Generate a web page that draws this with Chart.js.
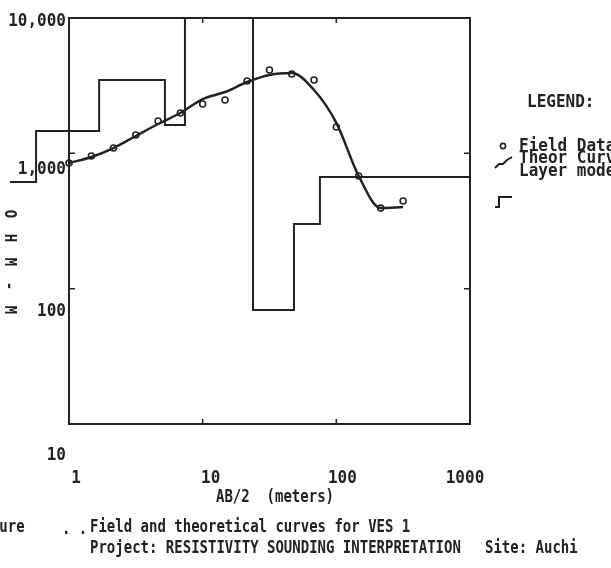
<!DOCTYPE html>
<html>
<head>
<meta charset="utf-8">
<title>VES 1 - field and theoretical curves</title>
<script src="https://cdn.jsdelivr.net/npm/chart.js@4.4.1/dist/chart.umd.min.js"></script>
<style>
  html, body { margin: 0; padding: 0; background: #fff; }
  #wrap { width: 611px; height: 568px; }
</style>
</head>
<body>
<div id="wrap"><canvas id="vesChart" width="611" height="568"></canvas></div>
<script>
// AB/2 spacings (m)
const spacings = [1, 1.47, 2.15, 3.16, 4.64, 6.81, 10, 14.7, 21.5, 31.6, 46.4, 68.1, 100, 147, 215, 316];
// apparent resistivity, ohm-m
const fieldRho = [848, 955, 1094, 1365, 1733, 1986, 2314, 2477, 3423, 4127, 3855, 3483, 1564, 680, 394, 444];
const theorRho = [848, 939, 1094, 1343, 1647, 1986, 2520, 2838, 3365, 3793, 3920, 2936, 1680, 680, 394, 401];

// layer model: top of each layer (m) and its resistivity
const layerDepth = [0.362, 0.567, 1.68, 5.22, 7.37, 23.8, 48.2, 75.4, 1000];
const layerRho = [614, 1462, 3483, 1618, 20000, 69.5, 300, 668, 668];

const xTicks = [1, 10, 100, 1000];
const xTickLabels = ['1', '10', '100', '1000'];
const yTicks = [10, 100, 1000, 10000];
const yTickLabels = ['10', '100', '1,000', '10,000'];

const INK = '#222';
const MONO = '"DejaVu Sans Mono", "Liberation Mono", monospace';

// old dot-matrix text is tall and narrow, so stretch it a bit
function printText(ctx, str, x, y, size, align, stretch, weight) {
  ctx.save();
  ctx.translate(x, y);
  ctx.scale(1, stretch || 1.15);
  ctx.font = (weight || 'bold') + ' ' + size + 'px ' + MONO;
  ctx.textAlign = align || 'left';
  ctx.textBaseline = 'middle';
  ctx.fillStyle = INK;
  ctx.fillText(str, 0, 0);
  ctx.restore();
}

const plotterDecor = {
  id: 'plotterDecor',
  beforeDatasetsDraw(chart) {
    const {ctx, chartArea: a, scales: {x, y}} = chart;
    ctx.save();
    ctx.strokeStyle = INK;
    ctx.lineWidth = 2;
    ctx.strokeRect(a.left, a.top, a.right - a.left, a.bottom - a.top);
    // inward decade ticks
    ctx.lineWidth = 1.5;
    ctx.beginPath();
    [10, 100].forEach(v => {
      const px = x.getPixelForValue(v);
      ctx.moveTo(px, a.top); ctx.lineTo(px, a.top + 5);
      ctx.moveTo(px, a.bottom); ctx.lineTo(px, a.bottom - 5);
    });
    [100, 1000].forEach(v => {
      const py = y.getPixelForValue(v);
      ctx.moveTo(a.left, py); ctx.lineTo(a.left + 6, py);
      ctx.moveTo(a.right, py); ctx.lineTo(a.right - 6, py);
    });
    ctx.stroke();
    ctx.restore();
  },
  afterDraw(chart) {
    const {ctx, scales: {x, y}} = chart;

    // tick labels drift a little on the printout
    const yNudge = [31, 23, 16, 3];
    yTicks.forEach((v, i) => {
      printText(ctx, yTickLabels[i], 66, y.getPixelForValue(v) + yNudge[i], 16, 'right');
    });
    const xNudge = [7, 8, 6, -5];
    xTicks.forEach((v, i) => {
      printText(ctx, xTickLabels[i], x.getPixelForValue(v) + xNudge[i], 478, 16, 'center');
    });

    printText(ctx, 'AB/2  (meters)', 275, 497, 14, 'center', 1.25);

    // y title, letters turned sideways
    ctx.save();
    ctx.font = 'bold 14px ' + MONO;
    ctx.fillStyle = INK;
    ctx.textAlign = 'center';
    ctx.textBaseline = 'middle';
    'OHM-M'.split('').forEach((ch, i) => {
      ctx.save();
      ctx.translate(9, 214 + i * 24);
      ctx.rotate(Math.PI / 2);
      ctx.scale(1, 1.15);
      ctx.fillText(ch, 0, 0);
      ctx.restore();
    });
    ctx.restore();

    // legend
    printText(ctx, 'LEGEND:', 527, 102, 16, 'left', 1.15);
    printText(ctx, 'Field Data', 519, 146, 16, 'left', 1.1);
    printText(ctx, 'Theor Curve', 519, 158, 16, 'left', 1.1);
    printText(ctx, 'Layer model', 519, 171, 16, 'left', 1.1);

    ctx.save();
    ctx.strokeStyle = INK;
    ctx.lineWidth = 1.6;
    ctx.beginPath();
    ctx.arc(503, 146, 2.6, 0, Math.PI * 2);
    ctx.stroke();
    ctx.lineWidth = 2;
    ctx.beginPath();
    ctx.moveTo(495, 168);
    ctx.lineTo(499, 164);
    ctx.lineTo(503, 164);
    ctx.lineTo(507, 160);
    ctx.lineTo(512, 157);
    ctx.stroke();
    ctx.beginPath();
    ctx.moveTo(495, 207);
    ctx.lineTo(499, 207);
    ctx.lineTo(499, 197);
    ctx.lineTo(512, 197);
    ctx.stroke();
    ctx.restore();

    // caption
    printText(ctx, 'Figure', -26, 527, 14, 'left', 1.25);
    printText(ctx, '. .', 62, 529, 14, 'left', 1.25);
    printText(ctx, 'Field and theoretical curves for VES 1', 90, 527, 14, 'left', 1.25);
    printText(ctx, 'Project: RESISTIVITY SOUNDING INTERPRETATION', 90, 548, 14, 'left', 1.25);
    printText(ctx, 'Site: Auchi', 485, 548, 14, 'left', 1.25);
  }
};

new Chart(document.getElementById('vesChart'), {
  type: 'line',
  data: {
    datasets: [
      {
        label: 'Layer model',
        data: layerDepth.map((d, i) => ({x: d, y: layerRho[i]})),
        stepped: 'before',
        borderColor: INK,
        borderWidth: 2,
        pointRadius: 0,
        fill: false,
        clip: {left: false, top: 0, right: 0, bottom: 0}
      },
      {
        label: 'Theor Curve',
        data: spacings.map((s, i) => ({x: s, y: theorRho[i]})),
        cubicInterpolationMode: 'monotone',
        borderColor: INK,
        borderWidth: 2.5,
        pointRadius: 0,
        fill: false
      },
      {
        label: 'Field Data',
        data: spacings.map((s, i) => ({x: s, y: fieldRho[i]})),
        showLine: false,
        pointStyle: 'circle',
        pointRadius: 3,
        pointBorderWidth: 1.6,
        pointBorderColor: INK,
        pointBackgroundColor: 'rgba(0,0,0,0)'
      }
    ]
  },
  options: {
    responsive: false,
    animation: false,
    layout: {padding: {left: 69, top: 18, right: 141, bottom: 144}},
    scales: {
      x: {
        type: 'logarithmic',
        display: false,
        bounds: 'data',
        // set range here so the first model layer is not trimmed off
        afterDataLimits: s => { s.min = 1; s.max = 1000; }
      },
      y: {
        type: 'logarithmic',
        display: false,
        bounds: 'data',
        afterDataLimits: s => { s.min = 10; s.max = 10000; }
      }
    },
    plugins: {
      legend: {display: false},
      tooltip: {enabled: false}
    }
  },
  plugins: [plotterDecor]
});
</script>
</body>
</html>
